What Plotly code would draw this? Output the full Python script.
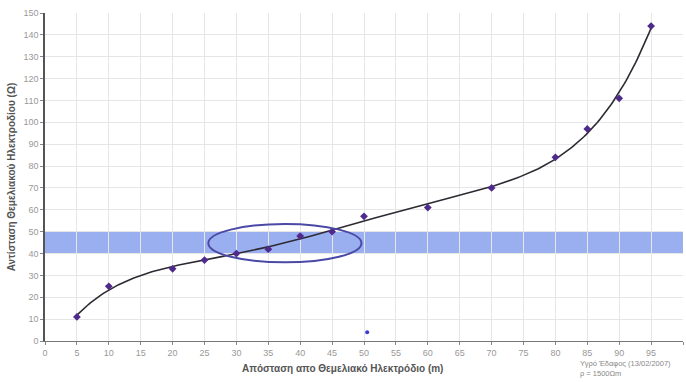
import numpy as np
import plotly.graph_objects as go

distance_m = [5, 10, 20, 25, 30, 35, 40, 45, 50, 60, 70, 80, 85, 90, 95]
resistance_ohm = [11, 25, 33, 37, 40, 42, 48, 50, 57, 61, 70, 84, 97, 111, 144]
stray_x = [50.5]
stray_y = [4]
band_low, band_high = 40, 50
x_ticks = list(range(0, 101, 5))
y_ticks = list(range(0, 151, 10))

coef = np.polyfit(distance_m, resistance_ohm, 5)
xs = np.linspace(min(distance_m), max(distance_m), 300)
ys = np.polyval(coef, xs)

fig = go.Figure()
fig.add_trace(go.Scatter(x=xs, y=ys, mode="lines",
                         line=dict(color="#2e2a33", width=1.6), hoverinfo="skip"))
fig.add_trace(go.Scatter(x=distance_m, y=resistance_ohm, mode="markers",
                         marker=dict(symbol="diamond", size=6, color="#4f2a8c")))
fig.add_trace(go.Scatter(x=stray_x, y=stray_y, mode="markers",
                         marker=dict(symbol="circle", size=4, color="#3a3ad0")))

fig.add_shape(type="rect", xref="paper", x0=0, x1=1, y0=band_low, y1=band_high,
              fillcolor="#8ea6ee", opacity=0.9, line=dict(width=0), layer="between")
fig.add_shape(type="circle", x0=25.6, x1=49.6, y0=36, y1=53.5,
              line=dict(color="#4a4aa6", width=2))

fig.add_annotation(text="Υγρό Έδαφος (13/02/2007)<br>ρ = 1500Ωm", xref="paper", yref="paper",
                   x=0.836, y=-0.05, xanchor="left", yanchor="top", showarrow=False, align="left",
                   font=dict(size=7.5, color="#888", family="Liberation Sans"))
fig.add_annotation(text="<b>Απόσταση απο Θεμελιακό Ηλεκτρόδιο (m)</b>", xref="paper", yref="paper",
                   x=0.466, y=-0.085, xanchor="center", yanchor="middle", showarrow=False,
                   font=dict(size=10, color="#555", family="Liberation Sans"))

fig.update_layout(
    width=686, height=382, margin=dict(l=45, r=3, t=13, b=41),
    paper_bgcolor="white", plot_bgcolor="white", showlegend=False,
    font=dict(family="Liberation Sans", color="#888"),
    xaxis=dict(range=[0, 100], tickvals=x_ticks, showgrid=True, gridcolor="#e6e6e6",
               showline=True, linecolor="#777", linewidth=1, ticks="outside", ticklen=3,
               tickcolor="#888", tickfont=dict(size=9, color="#999"), zeroline=False,
               automargin=False),
    yaxis=dict(range=[0, 150], tickvals=y_ticks, showgrid=True, gridcolor="#e6e6e6",
               showline=True, linecolor="#555", linewidth=1.5, ticks="outside", ticklen=3,
               tickcolor="#888", tickfont=dict(size=9, color="#999"), zeroline=False,
               automargin=False,
               title=dict(text="<b>Αντίσταση Θεμελιακού Ηλεκτροδίου (Ω)</b>",
                          font=dict(size=10, color="#555"), standoff=6)),
)
fig.write_html("out.html", config={"displayModeBar": False},
               post_script="document.body.style.margin='0';document.body.style.overflow='hidden';")
